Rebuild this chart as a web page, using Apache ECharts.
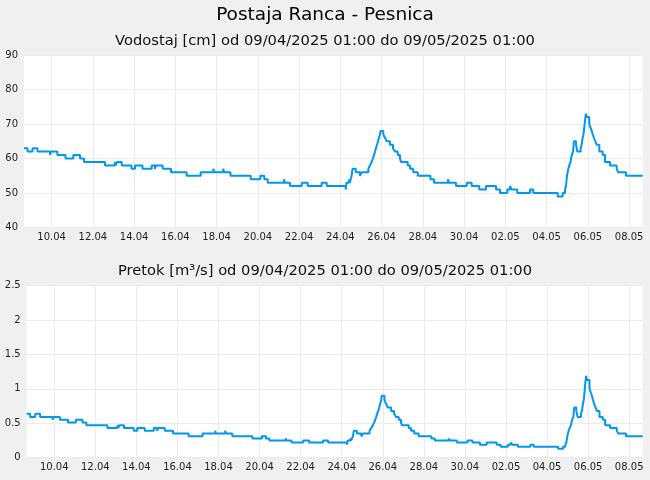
<!DOCTYPE html>
<html>
<head>
<meta charset="utf-8">
<script src="https://cdn.jsdelivr.net/npm/echarts@6/dist/echarts.min.js"></script>
<style>
html,body{margin:0;padding:0;background:#f0f0f0;}
#c{width:650px;height:480px;}
</style>
</head>
<body>
<div id="c"></div>
<script>
// hours since 09/04/2025 01:00
const times = [0,4.1,9.9,15.7,30.3,31.4,38.8,48.3,57.4,65.2,69.8,94.3,105.9,107.1,108,113.7,125.1,129.2,137.9,148.6,152.4,153.6,161.4,171.1,189.3,205.6,220.3,221.3,231.9,232.9,240.3,263.8,275,279.6,283.6,302.6,303.6,309.5,323.2,330.1,346.4,352.3,374.4,375.3,378.2,379.1,381.3,382.3,386,391,393,400.7,402.6,404.6,406.1,407.3,408.5,409.6,410.8,412,413.1,414.3,414.9,418.1,420.1,422.1,425.9,429.4,431.7,434.9,437.5,438.7,446.5,449.2,453,458.2,473,477.1,493.4,494.6,502.7,515.2,521,529.8,537.6,549.3,553.9,562.4,565.6,567.5,574,588.8,592.7,621.1,626.9,629.6,630.7,631.9,633.4,634.6,636,637.4,638.9,640,642.4,643.9,647.8,649,650.1,651.1,652,652.8,653.8,654.8,657.8,659.2,660.6,661.9,663.3,664.8,666.4,669.5,673.4,676.1,681.9,689.7,691.5,700.5,720];
const levels = [63,62,63,62,61,62,61,60,61,60,59,58,59,58,59,58,57,58,57,58,57,58,57,56,55,56,57,56,57,56,55,54,55,54,53,54,53,52,53,52,53,52,51,53,54,53,55,57,56,55,56,57,58,59,60,61,62,63,64,65,66,67,68,67,66,65,64,63,62,61,60,59,58,57,56,55,54,53,54,53,52,53,52,51,52,51,50,51,52,51,50,51,50,49,50,51,52,55,57,58,59,61,62,65,64,62,63,64,66,67,69,71,73,72,70,69,68,67,66,65,64,62,61,59,58,57,56,55,55];
const flows = [0.64,0.59,0.64,0.59,0.55,0.59,0.55,0.51,0.55,0.51,0.47,0.43,0.47,0.43,0.47,0.43,0.39,0.43,0.39,0.43,0.39,0.43,0.39,0.35,0.31,0.35,0.39,0.35,0.39,0.35,0.31,0.28,0.31,0.28,0.25,0.28,0.25,0.22,0.25,0.22,0.25,0.22,0.19,0.25,0.28,0.25,0.31,0.39,0.35,0.31,0.35,0.39,0.43,0.47,0.51,0.55,0.59,0.64,0.68,0.73,0.78,0.84,0.90,0.84,0.78,0.73,0.68,0.64,0.59,0.55,0.51,0.47,0.43,0.39,0.35,0.31,0.28,0.25,0.28,0.25,0.22,0.25,0.22,0.19,0.22,0.19,0.16,0.19,0.22,0.19,0.16,0.19,0.16,0.13,0.16,0.19,0.22,0.31,0.39,0.43,0.47,0.55,0.59,0.73,0.68,0.59,0.64,0.68,0.78,0.84,0.95,1.07,1.19,1.13,1.01,0.95,0.90,0.84,0.78,0.73,0.68,0.59,0.55,0.47,0.43,0.39,0.35,0.31,0.31];
const tickHours = [32.2,80.2,128.2,176.2,224.2,272.2,320.2,368.2,416.2,464.2,512.2,560.2,608.2,656.2,704.2];
const tickLabels = ['10.04','12.04','14.04','16.04','18.04','20.04','22.04','24.04','26.04','28.04','30.04','02.05','04.05','06.05','08.05'];

const FONT = 'DejaVu Sans';
const chart = echarts.init(document.getElementById('c'), null, {renderer: 'canvas'});

function xAxis(gridIndex) {
  return {
    type: 'value', gridIndex: gridIndex, min: 0, max: 720,
    axisLine: {show: false},
    axisTick: {show: false, customValues: tickHours},
    axisLabel: {
      customValues: tickHours, margin: 5, color: '#222', fontFamily: FONT, fontSize: 10,
      formatter: function (v) {
        let best = 0;
        for (let i = 0; i < tickHours.length; i++) {
          if (Math.abs(tickHours[i] - v) < Math.abs(tickHours[best] - v)) best = i;
        }
        return tickLabels[best];
      }
    },
    splitLine: {show: true, lineStyle: {color: '#ebebeb', width: 1}}
  };
}
function yAxis(gridIndex, min, max, interval) {
  return {
    type: 'value', gridIndex: gridIndex, min: min, max: max, interval: interval,
    axisLine: {show: false}, axisTick: {show: false},
    axisLabel: {margin: 6, color: '#222', fontFamily: FONT, fontSize: 10},
    splitLine: {show: true, lineStyle: {color: '#ebebeb', width: 1}}
  };
}

chart.setOption({
  animation: false,
  backgroundColor: '#f0f0f0',
  title: [
    {text: 'Postaja Ranca - Pesnica', left: 'center', top: 1,
     textStyle: {fontFamily: FONT, fontSize: 18.5, fontWeight: 'normal', color: '#000'}},
    {text: 'Vodostaj [cm] od 09/04/2025 01:00 do 09/05/2025 01:00', left: 'center', top: 28.5,
     textStyle: {fontFamily: FONT, fontSize: 14.7, fontWeight: 'normal', color: '#111'}},
    {text: 'Pretok [m³/s] od 09/04/2025 01:00 do 09/05/2025 01:00', left: 'center', top: 258.5,
     textStyle: {fontFamily: FONT, fontSize: 14.7, fontWeight: 'normal', color: '#111'}}
  ],
  grid: [
    {left: 24, right: 7.3, top: 55, height: 172.5, show: true, backgroundColor: '#fff', borderWidth: 0, containLabel: false},
    {left: 26.7, right: 7.3, top: 285.7, height: 172, show: true, backgroundColor: '#fff', borderWidth: 0, containLabel: false}
  ],
  xAxis: [xAxis(0), xAxis(1)],
  yAxis: [yAxis(0, 40, 90, 10), yAxis(1, 0, 2.5, 0.5)],
  series: [
    {type: 'line', xAxisIndex: 0, yAxisIndex: 0, step: 'end', showSymbol: false,
     lineStyle: {color: '#0098ee', width: 2}, itemStyle: {color: '#0098ee'},
     data: times.map((t, i) => [t, levels[i]])},
    {type: 'line', xAxisIndex: 1, yAxisIndex: 1, step: 'end', showSymbol: false,
     lineStyle: {color: '#0098ee', width: 2}, itemStyle: {color: '#0098ee'},
     data: times.map((t, i) => [t, flows[i]])}
  ]
});
</script>
</body>
</html>
